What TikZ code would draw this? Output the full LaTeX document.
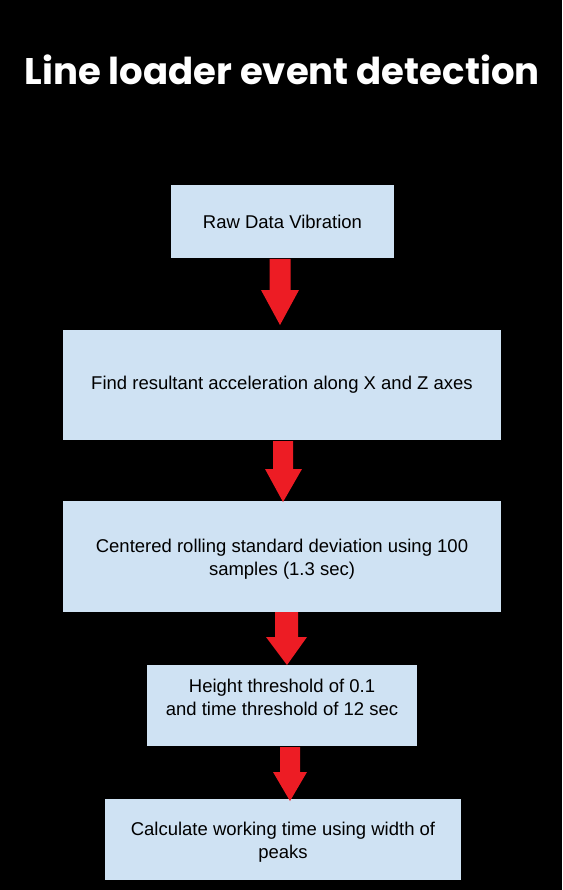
\documentclass[tikz,border=0pt]{standalone}
\usepackage{fontspec}
\setmainfont{Liberation Sans}
\newfontfamily\titlefont{Poppins}
\usepackage{graphicx}
\definecolor{boxblue}{HTML}{CFE2F3}
\definecolor{arrred}{HTML}{ED1C24}
\tikzset{
  stepbox/.style={fill=boxblue, draw=none, inner sep=0pt, align=center, font=\fontsize{18.5}{23}\selectfont, text=black},
  bigarrow/.style={fill=arrred, draw=none},
}
\begin{document}
\begin{tikzpicture}[x=1pt,y=-1pt]
\fill[black] (0,0) rectangle (562,890);
\useasboundingbox (0,0) rectangle (562,890);
\node[text=white, inner sep=0pt] (title) at (282,70) {\resizebox{515pt}{!}{\titlefont\bfseries Line loader event detection}};
% boxes
\path[stepbox] (171,185) rectangle (394,258);
\node[stepbox] (b1) at (282.5,221.5) {Raw Data Vibration};
\path[stepbox] (63,330) rectangle (501,440);
\node[stepbox] (b2) at (282,385) {Find resultant acceleration along X and Z axes};
\path[stepbox] (63,501) rectangle (501,612);
\node[stepbox] (b3) at (282,559.5) {Centered rolling standard deviation using 100\\samples (1.3 sec)};
\path[stepbox] (147,665) rectangle (417,746);
\node[stepbox] (b4) at (282,697) {Height threshold of 0.1\\and time threshold of 12 sec};
\path[stepbox] (105,799) rectangle (461,880);
\node[stepbox] (b5) at (283,842.5) {Calculate working time using width of\\peaks};
% arrows
\fill[bigarrow] (269.5,259) -- (290.5,259) -- (290.5,290) -- (299,290) -- (280,325) -- (261,290) -- (269.5,290) -- cycle;
\fill[bigarrow] (273,441) -- (293,441) -- (293,469) -- (302,469) -- (283,502) -- (265,469) -- (273,469) -- cycle;
\fill[bigarrow] (275,612) -- (298,612) -- (298,637) -- (307,637) -- (287,665) -- (266,637) -- (275,637) -- cycle;
\fill[bigarrow] (280,747) -- (300,747) -- (300,772) -- (307,772) -- (290,801) -- (273,772) -- (280,772) -- cycle;
\end{tikzpicture}
\end{document}
